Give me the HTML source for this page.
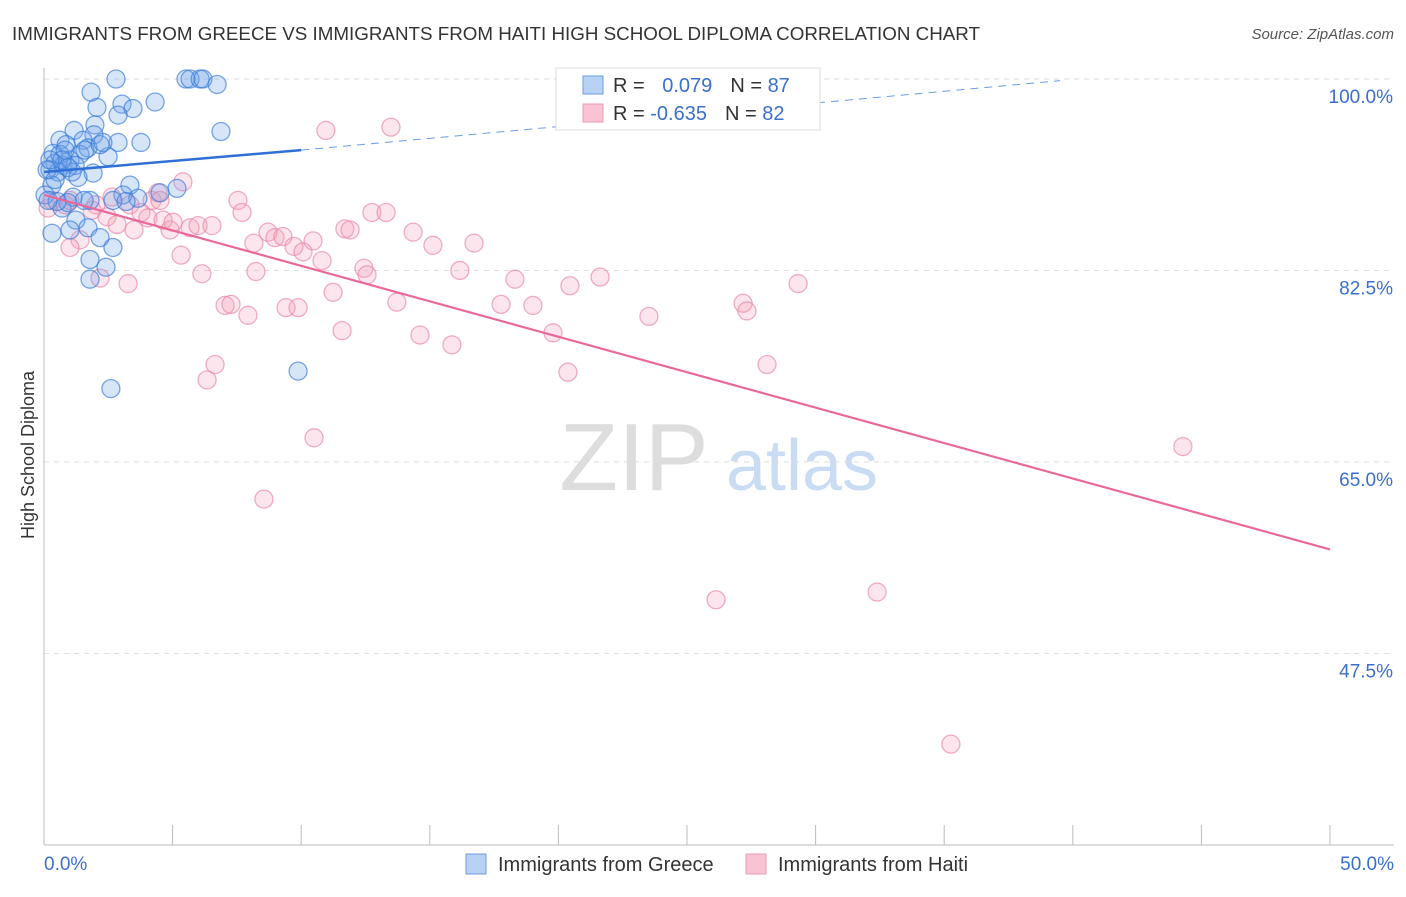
<!DOCTYPE html>
<html><head><meta charset="utf-8"><style>
body{margin:0;background:#fff;font-family:"Liberation Sans",sans-serif}
svg text{font-family:"Liberation Sans",sans-serif}
</style></head><body>
<svg id="c" width="1406" height="892">
<text x="12" y="40" font-size="18.8" fill="#333">IMMIGRANTS FROM GREECE VS IMMIGRANTS FROM HAITI HIGH SCHOOL DIPLOMA CORRELATION CHART</text>
<text x="1394" y="39" font-size="15" fill="#555" font-style="italic" text-anchor="end">Source: ZipAtlas.com</text>
<g><text x="634" y="490" font-size="96" fill="#ddd" text-anchor="middle" font-family="Liberation Serif">ZIP</text><text x="802" y="490" font-size="72" fill="#c9dcf3" text-anchor="middle">atlas</text></g>
<g id="grid"></g><g id="axes"></g><g id="pts"></g><g id="trend"></g>
<text transform="translate(34,455) rotate(-90)" font-size="18" fill="#333" text-anchor="middle">High School Diploma</text>
<g>
<rect x="556" y="68" width="264" height="62" fill="#fff" stroke="#ddd"/>
<rect x="583" y="76" width="20" height="18" fill="#b8d2f5" stroke="#6b9de0"/>
<rect x="583" y="104" width="20" height="18" fill="#f9c3d3" stroke="#eb9ab4"/>
<text x="613" y="92" font-size="20" fill="#333">R = <tspan fill="#3a6fd0" dx="12">0.079</tspan><tspan dx="18">N = </tspan><tspan fill="#3a6fd0">87</tspan></text>
<text x="613" y="120" font-size="20" fill="#333">R = <tspan fill="#3a6fd0">-0.635</tspan><tspan dx="18">N = </tspan><tspan fill="#3a6fd0">82</tspan></text>
</g>
<g>
<rect x="466" y="854" width="20" height="20" fill="#b8d2f5" stroke="#6b9de0"/>
<text x="498" y="871" font-size="20" fill="#333">Immigrants from Greece</text>
<rect x="746" y="854" width="20" height="20" fill="#f9c3d3" stroke="#eb9ab4"/>
<text x="778" y="871" font-size="20" fill="#333">Immigrants from Haiti</text>
</g>
</svg>
<script>
const yTicks=[100,82.5,65,47.5];
const yTickLabels=["100.0%","82.5%","65.0%","47.5%"];
const xTickLabels=["0.0%","50.0%"];
const greeceX=[2.8,5.52,5.68,6.07,6.18,6.73,1.83,4.32,2.06,3.03,3.46,2.88,1.98,6.88,3.77,2.88,0.62,1.17,1.94,1.52,0.86,2.49,0.35,0.43,0.74,1.01,1.40,1.71,0.23,0.54,1.09,1.91,0.31,0.04,3.34,5.17,4.51,3.07,3.65,2.68,3.19,1.79,1.13,1.56,0.70,0.93,1.24,1.01,1.71,2.18,0.31,2.68,1.79,2.41,1.79,9.88,2.60,0.51,0.16,0.12,0.62,0.82,1.21,1.59,2.18,2.29,0.70,0.93,1.32,0.43,0.23];
const greeceY=[100,100,100,100,100,99.5,98.8,97.9,97.4,97.7,97.3,96.7,95.8,95.2,94.2,94.2,94.4,95.3,94.9,94.4,94.0,92.9,93.2,92.3,92.1,92.6,93.1,93.7,91.7,91.5,91.5,91.4,90.3,89.4,90.3,90.0,89.6,89.4,89.1,88.9,88.8,88.9,89.2,88.9,88.2,88.7,87.1,86.2,86.4,85.5,85.9,84.6,83.5,82.8,81.7,73.3,71.7,88.8,88.9,91.7,93.1,93.5,92.1,93.5,94.0,94.2,92.6,91.9,91.0,90.8,92.6];
const haitiX=[0.16,0.31,0.82,1.01,1.40,1.01,2.02,1.87,2.45,2.64,2.84,3.34,3.50,3.77,4.04,4.20,4.43,4.63,4.90,5.02,5.40,5.33,5.68,5.99,6.53,6.14,7.04,7.27,7.93,6.65,6.34,7.54,7.70,8.16,8.24,8.71,8.98,9.29,9.72,10.07,10.46,10.81,9.41,9.88,10.96,11.24,11.59,11.70,11.90,12.44,12.56,12.75,13.30,13.49,13.72,14.35,14.62,15.12,15.86,16.17,16.72,17.77,18.31,19.01,19.79,20.37,20.45,21.62,23.52,27.18,27.33,28.11,29.32,10.50,8.55,26.13,32.39,44.28,35.26,3.27,2.18,4.51];
const haitiY=[88.2,88.9,88.5,88.9,85.3,84.6,88.5,88.0,87.4,89.2,86.7,88.5,86.2,87.8,87.3,88.9,89.6,87.1,86.2,86.9,90.6,83.9,86.4,86.6,86.6,82.2,79.3,79.4,78.4,73.9,72.5,88.9,87.8,85.0,82.4,86.0,85.5,85.6,84.7,84.2,85.2,83.4,79.1,79.1,95.3,80.5,77.0,86.3,86.2,82.7,82.1,87.8,87.8,95.6,79.6,86.0,76.6,84.8,75.7,82.5,85.0,79.4,81.7,79.3,76.8,73.2,81.1,81.9,78.3,79.5,78.8,73.9,81.3,67.2,61.6,52.4,53.1,66.4,39.2,81.3,81.8,88.9];
const greeceTrend=[91.5,0.2];
const haitiTrend=[89.4,-0.648];

const NS="http://www.w3.org/2000/svg";
const X=v=>44+v*25.72, Y=v=>79+(100-v)*10.94;
function mk(p,t,a){const e=document.createElementNS(NS,t);for(const k in a)e.setAttribute(k,a[k]);p.appendChild(e);return e;}
const g=document.getElementById('grid'),ax=document.getElementById('axes'),pts=document.getElementById('pts'),tr=document.getElementById('trend');
yTicks.forEach((v,i)=>{
 const l=mk(g,'line',{x1:44,x2:1394,y1:Y(v),y2:Y(v),stroke:'#ddd','stroke-dasharray':'5,5'});
 
 
 const t=mk(ax,'text',{x:1393,y:Y(v)+24,'font-size':19,fill:'#3a6fd0','text-anchor':'end'});
 t.textContent=yTickLabels[i];
 
 
});
const a1=mk(ax,'line',{x1:44,x2:44,y1:68,y2:845,stroke:'#bbb'});


const a2=mk(ax,'line',{x1:44,x2:1394,y1:845,y2:845,stroke:'#bbb'});


for(let i=0;i<=10;i++){const tk=mk(ax,'line',{x1:X(i*5),x2:X(i*5),y1:825,y2:845,stroke:'#bbb'});
 
 }
[[0,'start',44],[50,'end',1394]].forEach((d,i)=>{const t=mk(ax,'text',{x:d[2],y:870,'font-size':19,fill:'#3a6fd0','text-anchor':d[1]});t.textContent=xTickLabels[i];
 
 });
function dots(xs,ys,fill,stroke,name){xs.forEach((x,i)=>{const c=mk(pts,'circle',{cx:X(x),cy:Y(ys[i]),r:9,fill:fill,stroke:stroke,'stroke-width':1.3});
 
 });}
dots(haitiX,haitiY,'rgba(244,160,188,0.28)','rgba(232,130,165,0.65)','haiti-point');
dots(greeceX,greeceY,'rgba(110,160,235,0.28)','rgba(50,120,215,0.65)','greece-point');
const f=(t,x)=>t[0]+t[1]*x;
const b1=mk(tr,'line',{x1:X(0),y1:Y(f(greeceTrend,0)),x2:X(10),y2:Y(f(greeceTrend,10)),stroke:'#2f6fd6','stroke-width':2.5});


const b2=mk(tr,'line',{x1:X(10),y1:Y(f(greeceTrend,10)),x2:X(39.5),y2:Y(f(greeceTrend,10))-(X(39.5)-X(10))*0.0915,stroke:'#6b9de0','stroke-width':1,'stroke-dasharray':'8,6'});


const p1=mk(tr,'line',{x1:X(0),y1:Y(f(haitiTrend,0)),x2:X(50),y2:Y(f(haitiTrend,50)),stroke:'#e8689a','stroke-width':2.2});


</script>
</body></html>
